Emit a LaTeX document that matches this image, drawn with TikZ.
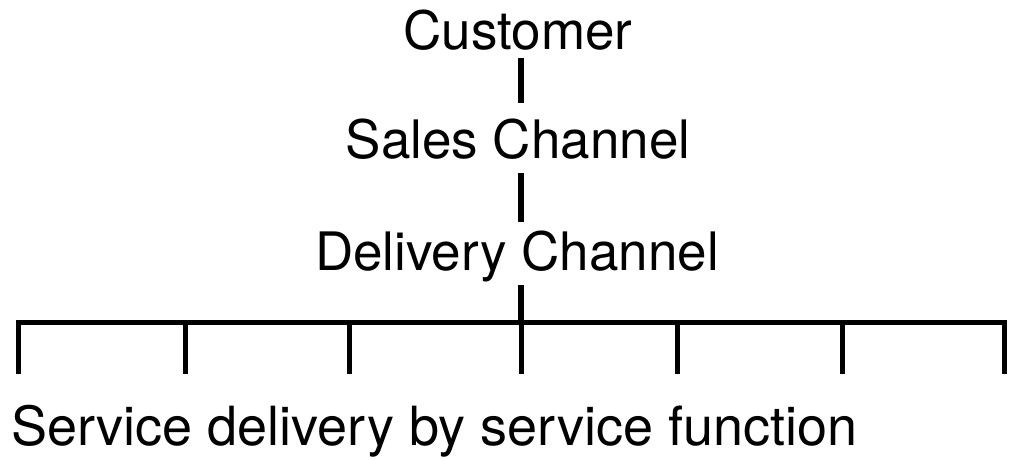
\documentclass[tikz,border=0pt]{standalone}
\usepackage{fontspec}
\setmainfont{TeX Gyre Heros}
\begin{document}
\begin{tikzpicture}[x=1pt,y=1pt,
  lbl/.style={inner sep=0pt, font=\fontsize{53}{60}\selectfont},
  conn/.style={line width=6pt, line cap=butt},
  bus/.style={line width=5pt, line cap=butt},
  tick/.style={line width=5pt, line cap=butt}]
\useasboundingbox[fill=white] (0,0) rectangle (1009,459);
\node[lbl, anchor=base] (cust) at (518,409) {Customer};
\node[lbl, anchor=base] (sales) at (518,301) {Sales Channel};
\node[lbl, anchor=base] (deliv) at (517,189) {Delivery Channel};
\node[lbl, anchor=base west, font=\fontsize{54}{60}\selectfont] (svc) at (11,14) {Service delivery by service function};
% bus
\coordinate (busL) at (15.5,137);
\coordinate (busR) at (1006.5,137);
\coordinate (hub) at (521,137);
\draw[bus] (busL) -- (busR);
% connectors
\draw[conn] ([xshift=3pt,yshift=-8pt]cust.base) -- ([xshift=3pt,yshift=-53pt]cust.base);
\draw[conn] ([xshift=3pt,yshift=-15pt]sales.base) -- ([xshift=3pt,yshift=-64pt]sales.base);
\draw[conn] ([xshift=4pt,yshift=-15pt]deliv.base) -- (hub);
% ticks
\foreach \n/\x in {t1/18,t2/185,t3/349,t4/521,t5/677,t6/842,t7/1004}{
  \coordinate (\n top) at (\x,139.5);
  \coordinate (\n) at (\x,85);
  \draw[tick] (\n top) -- (\n);
}
\end{tikzpicture}
\end{document}
